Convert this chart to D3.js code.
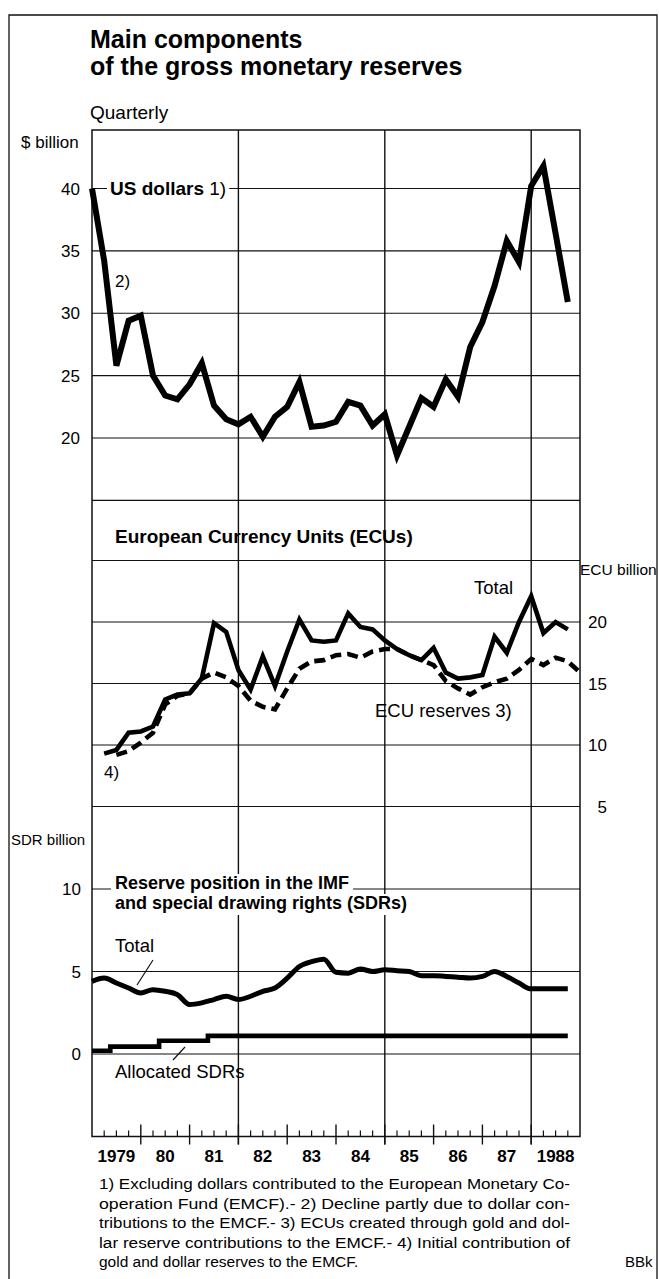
<!DOCTYPE html>
<html>
<head>
<meta charset="utf-8">
<script src="https://cdn.jsdelivr.net/npm/d3@7"></script>
<style>
  html, body { margin: 0; padding: 0; background: #fff; }
  svg { display: block; font-family: "Liberation Sans", Arial, Helvetica, sans-serif; }
</style>
</head>
<body>
<svg id="chart" width="659" height="1279"></svg>
<script>
// quarterly values, index 0 = end of 1978, one step per quarter
const yearLabels = ["1979", "80", "81", "82", "83", "84", "85", "86", "87", "1988"];
const usDollars = [40.0, 34.2, 25.8, 29.4, 29.8, 25.0, 23.4, 23.1, 24.3, 26.0,
                   22.6, 21.5, 21.1, 21.7, 20.1, 21.7, 22.5, 24.5, 20.9, 21.0,
                   21.3, 22.9, 22.6, 21.0, 21.9, 18.6, 20.9, 23.2, 22.5, 24.7,
                   23.3, 27.3, 29.3, 32.2, 35.8, 34.1, 40.2, 41.8, 36.4, 30.9];
const ecuTotal = [null, 9.3, 9.6, 11.0, 11.1, 11.5, 13.7, 14.1, 14.2, 15.4,
                  19.9, 19.2, 16.1, 14.5, 17.2, 14.8, 17.6, 20.2, 18.5, 18.4,
                  18.5, 20.7, 19.6, 19.4, 18.5, 17.8, 17.3, 16.9, 17.9, 15.9,
                  15.4, 15.5, 15.7, 18.8, 17.5, 20.0, 22.1, 19.1, 20.0, 19.4];
const ecuReserves = [null, null, 9.2, 9.5, 10.2, 11.0, 13.3, 14.0, 14.2, 15.4,
                     15.9, 15.5, 14.8, 13.6, 13.1, 12.9, 14.6, 16.2, 16.8, 16.9,
                     17.3, 17.4, 17.1, 17.6, 17.8, 17.8, 17.3, 16.9, 16.5, 15.2,
                     14.6, 14.1, 14.7, 15.1, 15.4, 16.1, 17.0, 16.5, 17.1, 16.8, 15.9];
const sdrTotal = [4.4, 4.6, 4.3, 4.0, 3.7, 3.9, 3.8, 3.6, 3.0, 3.1,
                  3.3, 3.5, 3.3, 3.5, 3.8, 4.0, 4.6, 5.3, 5.6, 5.75,
                  4.95, 4.9, 5.15, 5.0, 5.1, 5.05, 5.0, 4.75, 4.75, 4.7,
                  4.65, 4.6, 4.7, 5.0, 4.7, 4.3, 3.95, 3.95, 3.95, 3.95];
const sdrAllocated = [0.2, 0.2, 0.45, 0.45, 0.45, 0.45, 0.8, 0.8, 0.8, 0.8,
                      1.1, 1.1, 1.1, 1.1, 1.1, 1.1, 1.1, 1.1, 1.1, 1.1,
                      1.1, 1.1, 1.1, 1.1, 1.1, 1.1, 1.1, 1.1, 1.1, 1.1,
                      1.1, 1.1, 1.1, 1.1, 1.1, 1.1, 1.1, 1.1, 1.1, 1.1];

const usGrid = [15, 20, 25, 30, 35, 40];
const usTicks = [20, 25, 30, 35, 40];
const ecuGrid = [5, 10, 15, 20, 25];
const ecuTicks = [5, 10, 15, 20];
const sdrGrid = [0, 5, 10];
const sdrTicks = [0, 5, 10];
const yearGrid = [1982, 1985, 1988];

const footnotes = [
    "1) Excluding dollars contributed to the European Monetary Co-",
    "operation Fund (EMCF).- 2) Decline partly due to dollar con-",
    "tributions to the EMCF.- 3) ECUs created through gold and dol-",
    "lar reserve contributions to the EMCF.- 4) Initial contribution of",
    "gold and dollar reserves to the EMCF."
];

const ink = "#111";
const plotLeft = 92, plotRight = 580, plotTop = 130;

const x = d3.scaleLinear().domain([1979, 1989]).range([plotLeft, plotRight]);
const yUS = d3.scaleLinear().domain([20, 40]).range([438, 188.5]);
const yECU = d3.scaleLinear().domain([10, 20]).range([745, 622]);
const ySDR = d3.scaleLinear().domain([0, 10]).range([1054, 889]);
const plotBottom = ySDR(-5);
const xq = i => x(1979 + i / 4);

const svg = d3.select("#chart");

// outer frame
svg.append("path")
    .attr("d", "M9,1290V15H657V1290")
    .attr("fill", "none")
    .attr("stroke", ink)
    .attr("stroke-width", 1.3);

// title
svg.append("text").attr("x", 90).attr("y", 48)
    .style("font-size", "25px").style("font-weight", "bold")
    .text("Main components");
svg.append("text").attr("x", 90).attr("y", 75)
    .style("font-size", "25px").style("font-weight", "bold")
    .text("of the gross monetary reserves");
svg.append("text").attr("x", 90).attr("y", 119)
    .style("font-size", "19px").text("Quarterly");

// grid
const grid = svg.append("g").attr("stroke", ink).attr("fill", "none");
grid.selectAll(".gus").data(usGrid).join("line")
    .attr("x1", plotLeft).attr("x2", plotRight)
    .attr("y1", d => yUS(d)).attr("y2", d => yUS(d))
    .attr("stroke-width", 1.1);
grid.selectAll(".gecu").data(ecuGrid).join("line")
    .attr("x1", plotLeft).attr("x2", plotRight)
    .attr("y1", d => yECU(d)).attr("y2", d => yECU(d))
    .attr("stroke-width", 1.1);
grid.selectAll(".gsdr").data(sdrGrid).join("line")
    .attr("x1", plotLeft).attr("x2", plotRight)
    .attr("y1", d => ySDR(d)).attr("y2", d => ySDR(d))
    .attr("stroke-width", 1.1);
grid.selectAll(".gx").data(yearGrid).join("line")
    .attr("x1", d => x(d)).attr("x2", d => x(d))
    .attr("y1", plotTop).attr("y2", plotBottom + 8)
    .attr("stroke-width", 1.4);
grid.append("rect")
    .attr("x", plotLeft).attr("y", plotTop)
    .attr("width", plotRight - plotLeft).attr("height", plotBottom - plotTop)
    .attr("stroke-width", 1.5);

// x axis ticks
const axis = svg.append("g").attr("stroke", ink);
const minor = [];
d3.range(1979, 1989).forEach(yr => [0.25, 0.5, 0.75].forEach(q => minor.push(yr + q)));
axis.selectAll(".minor").data(minor).join("line")
    .attr("x1", d => x(d)).attr("x2", d => x(d))
    .attr("y1", plotBottom).attr("y2", plotBottom - 6)
    .attr("stroke-width", 1.2);
axis.selectAll(".major").data(d3.range(1980, 1989)).join("line")
    .attr("x1", d => x(d)).attr("x2", d => x(d))
    .attr("y1", plotBottom - 12).attr("y2", plotBottom + 8)
    .attr("stroke-width", 1.4);
svg.append("g").selectAll("text").data(yearLabels).join("text")
    .attr("x", (d, i) => x(1979.5 + i))
    .attr("y", plotBottom + 25)
    .attr("text-anchor", "middle")
    .style("font-size", "17px").style("font-weight", "bold")
    .text(d => d);

// boxed labels: white boxes go in their own layer, under all the text
const boxLayer = svg.append("g");
const boxText = svg.append("g");
function boxedText(x0, y0, parts, size, pad) {
    const t = boxText.append("text").attr("x", x0).attr("y", y0).style("font-size", size + "px");
    parts.forEach(p => t.append("tspan")
        .style("font-weight", p.bold ? "bold" : "normal")
        .text(p.text));
    const b = t.node().getBBox();
    boxLayer.append("rect")
        .attr("x", b.x - pad).attr("y", b.y + 1)
        .attr("width", b.width + 2 * pad).attr("height", b.height + 1)
        .attr("fill", "#fff");
    return t;
}

// y tick labels
svg.append("g").selectAll("text").data(usTicks).join("text")
    .attr("x", 80).attr("y", d => yUS(d) + 6)
    .attr("text-anchor", "end").style("font-size", "17px").text(d => d);
svg.append("g").selectAll("text").data(sdrTicks).join("text")
    .attr("x", 81).attr("y", d => ySDR(d) + 6)
    .attr("text-anchor", "end").style("font-size", "17px").text(d => d);
svg.append("g").selectAll("text").data(ecuTicks).join("text")
    .attr("x", 607).attr("y", d => yECU(d) + 6)
    .attr("text-anchor", "end").style("font-size", "17px").text(d => d);

svg.append("text").attr("x", 21).attr("y", 148).style("font-size", "17px").text("$ billion");
svg.append("text").attr("x", 580).attr("y", 575).style("font-size", "15.5px").text("ECU billion");
svg.append("text").attr("x", 11).attr("y", 845).style("font-size", "15px").text("SDR billion");

// series labels with white boxes
boxedText(110, 195, [{text: "US dollars", bold: true}, {text: " 1)"}], 19, 3);
boxedText(115, 889, [{text: "Reserve position in the IMF", bold: true}], 18, 4);
boxedText(115, 909, [{text: "and special drawing rights (SDRs)", bold: true}], 18, 4);

// lines
function seriesLine(y) {
    return d3.line()
        .defined(d => d !== null)
        .x((d, i) => xq(i))
        .y(d => y(d));
}

const lines = svg.append("g").attr("fill", "none").attr("stroke", "#000")
    .attr("stroke-linejoin", "miter").attr("stroke-miterlimit", 3);

lines.append("path").datum(usDollars)
    .attr("d", seriesLine(yUS))
    .attr("stroke-width", 6);
lines.append("path").datum(ecuReserves)
    .attr("d", seriesLine(yECU))
    .attr("stroke-width", 4.6)
    .attr("stroke-dasharray", "11,6");
lines.append("path").datum(ecuTotal)
    .attr("d", seriesLine(yECU))
    .attr("stroke-width", 4.6);
lines.append("path").datum(sdrTotal)
    .attr("d", seriesLine(ySDR).curve(d3.curveMonotoneX))
    .attr("stroke-width", 5);
lines.append("path").datum(sdrAllocated)
    .attr("d", seriesLine(ySDR).curve(d3.curveStep))
    .attr("stroke-width", 4.6);

// plain labels
const labels = svg.append("g");
labels.append("text").attr("x", 115).attr("y", 287).style("font-size", "17px").text("2)");
labels.append("text").attr("x", 115).attr("y", 543)
    .style("font-size", "19px").style("font-weight", "bold")
    .text("European Currency Units (ECUs)");
labels.append("text").attr("x", 474).attr("y", 594).style("font-size", "18.5px").text("Total");
labels.append("text").attr("x", 375).attr("y", 717).style("font-size", "18.5px").text("ECU reserves 3)");
labels.append("text").attr("x", 104).attr("y", 778).style("font-size", "17px").text("4)");
labels.append("text").attr("x", 115).attr("y", 952).style("font-size", "18.5px").text("Total");
labels.append("text").attr("x", 115).attr("y", 1078).style("font-size", "18.5px").text("Allocated SDRs");

// leader lines
svg.append("line").attr("x1", 137).attr("y1", 985).attr("x2", 153).attr("y2", 960)
    .attr("stroke", ink).attr("stroke-width", 1.2);
svg.append("line").attr("x1", 173).attr("y1", 1060).attr("x2", 185).attr("y2", 1047)
    .attr("stroke", ink).attr("stroke-width", 1.2);

// footnotes
svg.append("g").selectAll("text").data(footnotes).join("text")
    .attr("x", 99)
    .attr("y", (d, i) => 1189 + i * 19.5)
    .style("font-size", "15.5px")
    .attr("textLength", (d, i) => i < footnotes.length - 1 ? 471 : null)
    .attr("lengthAdjust", "spacingAndGlyphs")
    .text(d => d);
svg.append("text").attr("x", 625).attr("y", 1267).style("font-size", "15px").text("BBk");
</script>
</body>
</html>
